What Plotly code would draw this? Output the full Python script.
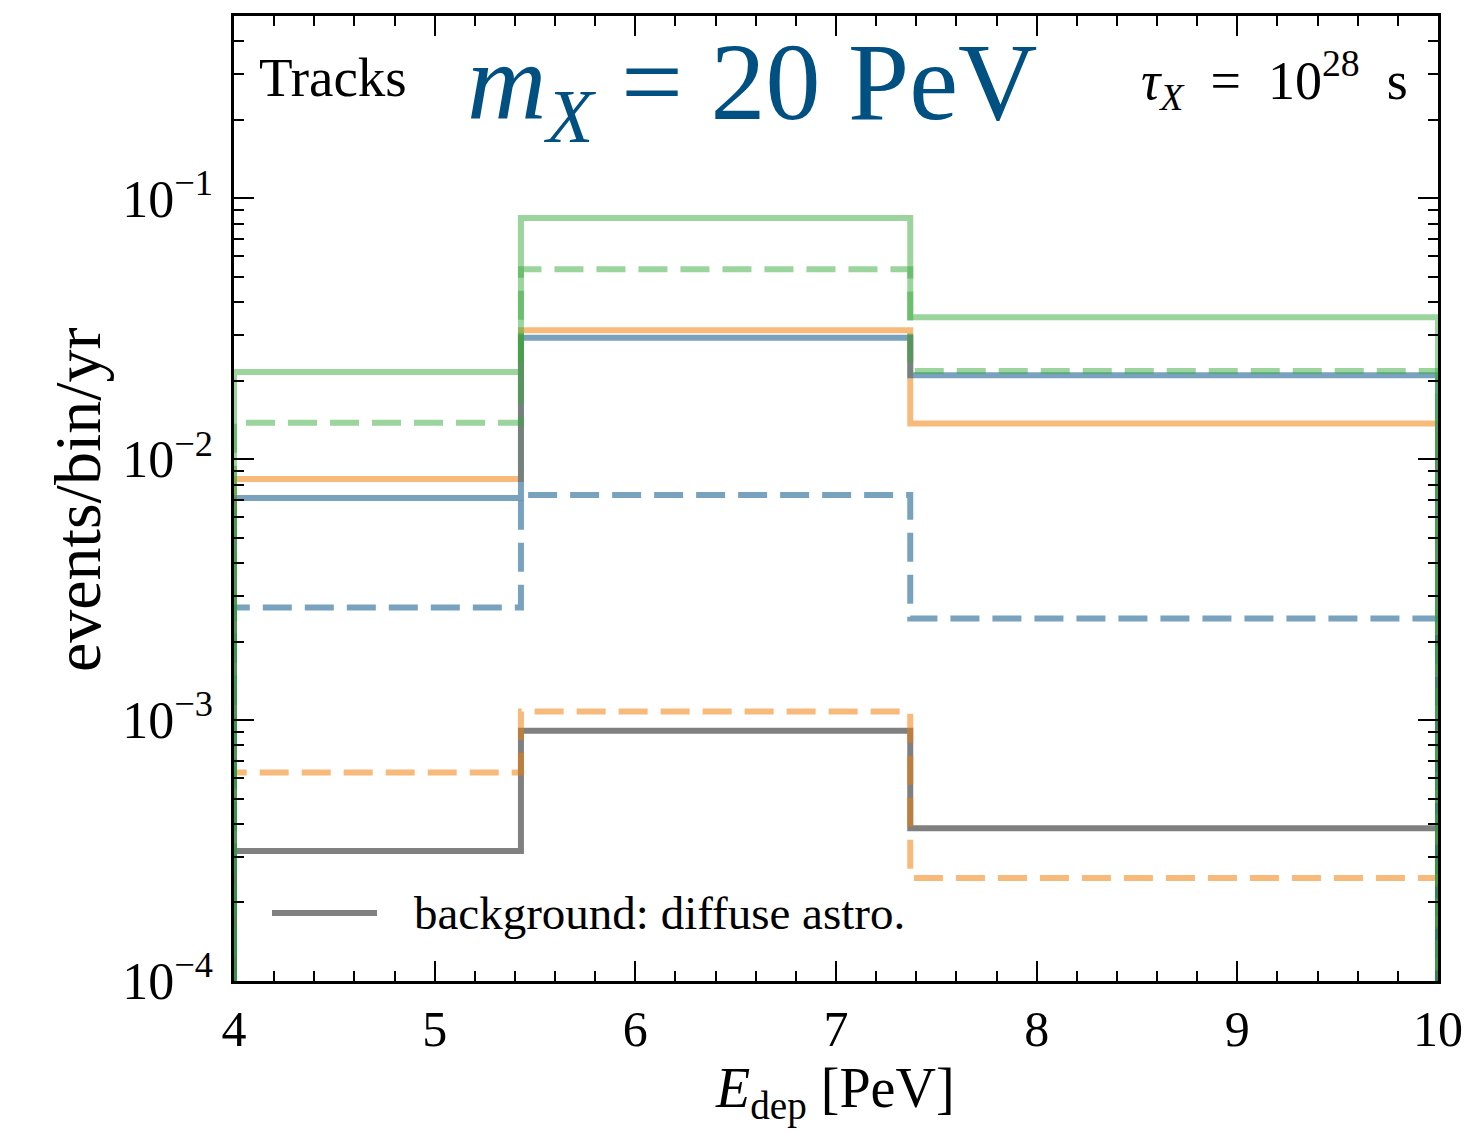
import plotly.graph_objects as go

# ---------------- data ----------------
BIN_EDGES = [4.0, 5.43, 7.37, 10.0]

GRAY_BG = [3.15e-4, 9.1e-4, 3.85e-4]          # background: diffuse astro.
ORANGE_SOLID = [8.4e-3, 3.12e-2, 1.37e-2]
ORANGE_DASH = [6.3e-4, 1.08e-3, 2.48e-4]
BLUE_SOLID = [7.1e-3, 2.92e-2, 2.10e-2]
BLUE_DASH = [2.70e-3, 7.3e-3, 2.45e-3]
GREEN_SOLID = [2.16e-2, 8.4e-2, 3.50e-2]
GREEN_DASH = [1.38e-2, 5.35e-2, 2.18e-2]

X_TICKS = [4, 5, 6, 7, 8, 9, 10]
Y_TICKS = [1e-4, 1e-3, 1e-2, 1e-1]
Y_TICK_TEXT = ["10<sup>−4</sup>", "10<sup>−3</sup>", "10<sup>−2</sup>", "10<sup>−1</sup>"]

FLOOR = 1e-6  # below axis, so the step edges run to the bottom like a step histogram

FONT = "Liberation Serif"


def step_xy(edges, vals):
    xs, ys = [edges[0]], [FLOOR]
    for i, v in enumerate(vals):
        xs += [edges[i], edges[i + 1]]
        ys += [v, v]
    xs.append(edges[-1])
    ys.append(FLOOR)
    return xs, ys


series = [
    (GRAY_BG, "rgb(128,128,128)", "solid"),
    (ORANGE_SOLID, "rgba(242,124,6,0.53)", "solid"),
    (ORANGE_DASH, "rgba(242,124,6,0.53)", "29px,13px"),
    (BLUE_SOLID, "rgba(0,80,130,0.53)", "solid"),
    (BLUE_DASH, "rgba(0,80,130,0.53)", "29px,13px"),
    (GREEN_SOLID, "rgba(55,170,60,0.5)", "solid"),
    (GREEN_DASH, "rgba(55,170,60,0.5)", "29px,13px"),
]

fig = go.Figure()
for vals, col, dash in series:
    xs, ys = step_xy(BIN_EDGES, vals)
    fig.add_trace(go.Scatter(x=xs, y=ys, mode="lines",
                             line=dict(color=col, width=6, dash=dash),
                             showlegend=False, hoverinfo="skip"))

minor_y = [m * 10 ** e for e in range(-4, 0) for m in range(2, 10)]
minor_y = [v for v in minor_y if v < 0.5]

axis_common = dict(showline=True, linecolor="black", linewidth=2.5, mirror="allticks",
                   ticks="inside", ticklen=20, tickwidth=2.2, tickcolor="black",
                   showgrid=False, zeroline=False)

fig.update_xaxes(range=[4, 10], tickvals=X_TICKS, ticklabelstandoff=2,
                 tickfont=dict(family=FONT, size=50, color="black"),
                 minor=dict(ticks="inside", ticklen=10, tickwidth=1.8, tickcolor="black", dtick=0.2,
                            showgrid=False),
                 **axis_common)
fig.update_yaxes(type="log", range=[-4, -0.301], tickvals=Y_TICKS, ticktext=Y_TICK_TEXT,
                 ticklabelstandoff=8,
                 tickfont=dict(family=FONT, size=52, color="black"),
                 minor=dict(ticks="inside", ticklen=10, tickwidth=1.8, tickcolor="black",
                            tickvals=minor_y, showgrid=False),
                 **axis_common)

W, H = 1475, 1132
L, R, T, B = 234, 1438, 16, 981


def px(x):
    return (x - L) / (R - L)


def py(y):
    return (B - y) / (B - T)


annotations = [
    dict(x=px(257), y=py(78), xanchor="left", yanchor="middle", text="Tracks",
         font=dict(family=FONT, size=55, color="black")),
    dict(x=px(752), y=py(90), xanchor="center", yanchor="middle",
         text="<i>m</i><sub><i>X</i></sub> = 20 PeV",
         font=dict(family=FONT, size=110, color="#005082")),
    dict(x=px(1410), y=py(80), xanchor="right", yanchor="middle",
         text="<i>τ</i><sub><i>X</i></sub>&nbsp; =&nbsp; 10<sup>28</sup>&nbsp; s",
         font=dict(family=FONT, size=54, color="black")),
    dict(x=px(412), y=py(913), xanchor="left", yanchor="middle",
         text="background: diffuse astro.",
         font=dict(family=FONT, size=47, color="black")),
    dict(x=px(835), y=py(1092), xanchor="center", yanchor="middle",
         text="<i>E</i><sub>dep</sub> [PeV]",
         font=dict(family=FONT, size=56, color="black")),
    dict(x=px(78), y=py(500), xanchor="center", yanchor="middle", textangle=-90,
         text="events/bin/yr",
         font=dict(family=FONT, size=66, color="black")),
]
for a in annotations:
    a.update(xref="paper", yref="paper", showarrow=False)

fig.update_layout(
    width=W, height=H,
    margin=dict(l=L, r=W - R, t=T, b=H - B, pad=0),
    paper_bgcolor="white", plot_bgcolor="white",
    font=dict(family=FONT),
    annotations=annotations,
    shapes=[dict(type="line", xref="paper", yref="paper",
                 x0=px(272), x1=px(377), y0=py(913), y1=py(913),
                 line=dict(color="rgb(128,128,128)", width=6))],
    showlegend=False,
)

fig.write_html("out.html")
